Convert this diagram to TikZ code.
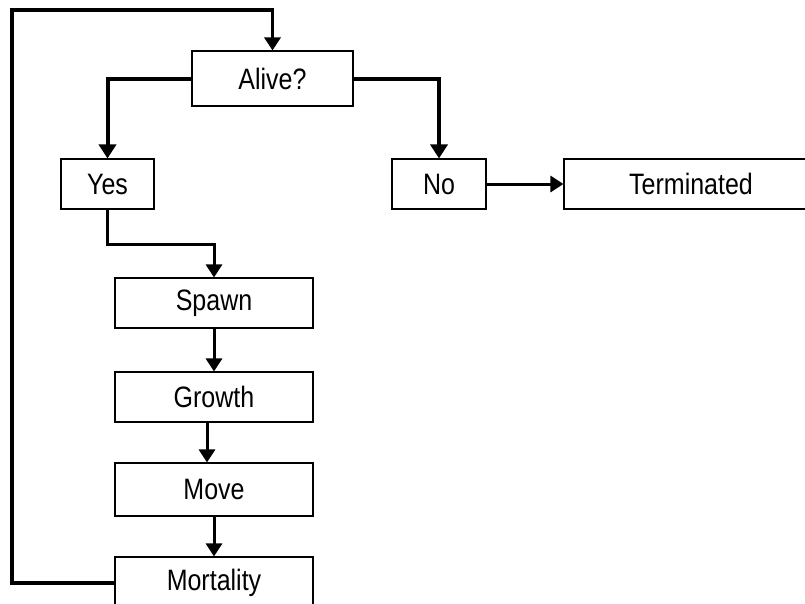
\documentclass[tikz,border=0pt]{standalone}
\usepackage{fontspec}
\setmainfont{Liberation Sans}
\usetikzlibrary{arrows.meta}
\newcommand{\tallname}[1]{\scalebox{1}[1.18]{#1}}
\begin{document}
\begin{tikzpicture}[x=1pt,y=-1pt,
  box/.style={draw=black, line width=1.1pt, fill=white, inner sep=0pt,
    font=\fontsize{25}{28}\selectfont},
  link/.style={line width=3pt, -{Triangle[width=16pt,length=13pt]}},
  boldlink/.style={line width=4pt, -{Triangle[width=17pt,length=14pt]}}]
\useasboundingbox (0,0) rectangle (805,603);
\clip (0,0) rectangle (805,603);
\fill[white] (0,0) rectangle (805,603);

% decision and outcomes
\node[box, minimum width=161pt, minimum height=55pt] (alive) at (272.5,78.5) {\tallname{Alive?}};
\node[box, minimum width=93pt, minimum height=50pt] (yes) at (107.5,184) {\tallname{Yes}};
\node[box, minimum width=94pt, minimum height=50pt] (no) at (439,184) {\tallname{No}};
\node[box, minimum width=254pt, minimum height=50pt] (term) at (691,184) {\tallname{Terminated}};

% per-step processes
\node[box, minimum width=198pt, minimum height=50pt] (spawn) at (214,303) {\tallname{Spawn}};
\node[box, minimum width=198pt, minimum height=50pt] (growth) at (214,397) {\tallname{Growth}};
\node[box, minimum width=198pt, minimum height=53pt] (move) at (214,489.5) {\tallname{Move}};
\node[box, minimum width=198pt, minimum height=52pt] (mort) at (214,583) {\tallname{Mortality}};

% branches out of the decision
\draw[boldlink] (alive.west) -| (yes.north);
\draw[boldlink] (alive.east) -| (no.north);
\draw[link] (no.east) -- (term.west);

% main sequence
\coordinate (bend) at (107.5,244);
\draw[link] (yes.south) -- (bend) -| (spawn.north);
\draw[link] (spawn.south) -- (growth.north);
\draw[link] ([xshift=-7pt]growth.south) -- ([xshift=-7pt]move.north);
\draw[link] (move.south) -- (mort.north);

% loop back to the decision
\coordinate (loopbl) at (12,583);
\coordinate (looptl) at (12,10);
\draw[link, line width=3.3pt] (mort.west) -- (loopbl) -- (looptl) -| (alive.north);
\end{tikzpicture}
\end{document}
